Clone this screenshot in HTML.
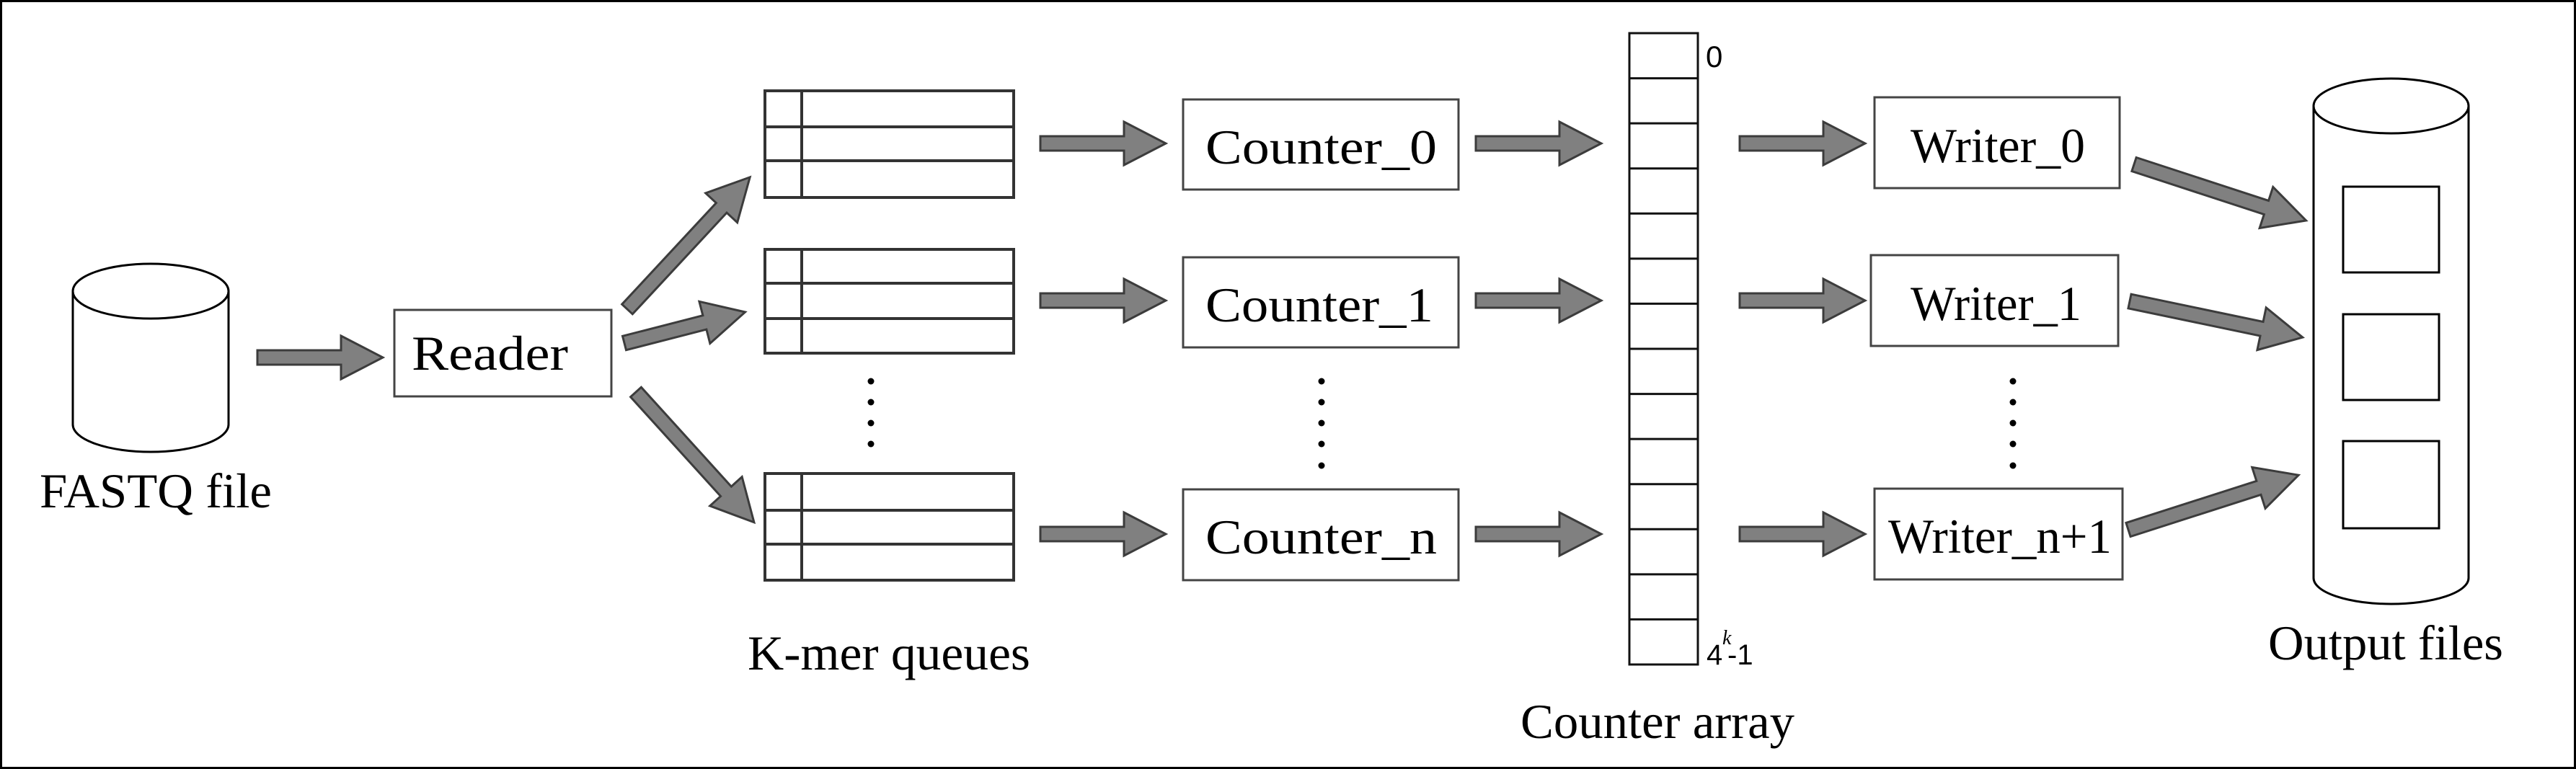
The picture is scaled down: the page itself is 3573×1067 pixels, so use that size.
<!DOCTYPE html>
<html><head><meta charset="utf-8"><style>
html,body{margin:0;padding:0;background:#fff}
svg{display:block}
text{font-family:"Liberation Serif",serif;fill:#000}
</style></head><body>
<svg width="3573" height="1067" viewBox="0 0 3573 1067" xmlns="http://www.w3.org/2000/svg">
<defs>
<g id="ah"><polygon points="0,-10 116,-10 116,-30 174,0 116,30 116,10 0,10" fill="#808080" stroke="#3c3c3c" stroke-width="3"/></g>
</defs>
<rect x="1.5" y="1.5" width="3570" height="1064" fill="#fff" stroke="#000" stroke-width="3"/>

<!-- FASTQ cylinder -->
<g fill="#fff" stroke="#000" stroke-width="3">
<path d="M101,404 L101,589 A108,38 0 0 0 317,589 L317,404"/>
<ellipse cx="209" cy="404" rx="108" ry="38"/>
</g>
<text x="55" y="704" font-size="68" textLength="322" lengthAdjust="spacingAndGlyphs">FASTQ file</text>

<!-- Reader arrow -->
<polygon points="357,486 473,486 473,466 531,496 473,526 473,506 357,506" fill="#808080" stroke="#3c3c3c" stroke-width="3"/>
<rect x="547" y="430" width="301" height="120" fill="#fff" stroke="#444" stroke-width="3"/>
<text x="571" y="513" font-size="68" textLength="217" lengthAdjust="spacingAndGlyphs">Reader</text>

<!-- diagonal arrows -->
<g fill="#808080" stroke="#3c3c3c" stroke-width="3">
<polygon transform="translate(870,429) rotate(-47.1)" points="0,-10 192,-10 192,-30 250,0 192,30 192,10 0,10"/>
<polygon transform="translate(866,476) rotate(-14.4)" points="0,-10 115,-10 115,-30 173,0 115,30 115,10 0,10"/>
<polygon transform="translate(882,544) rotate(47.8)" points="0,-10 186,-10 186,-30 244,0 186,30 186,10 0,10"/>
</g>

<!-- queues -->
<g fill="none" stroke="#333" stroke-width="4">
<rect x="1061" y="126" width="345" height="148"/><line x1="1061" y1="176" x2="1406" y2="176"/><line x1="1061" y1="223" x2="1406" y2="223"/><line x1="1112" y1="126" x2="1112" y2="274"/>
<rect x="1061" y="346" width="345" height="144"/><line x1="1061" y1="393" x2="1406" y2="393"/><line x1="1061" y1="442" x2="1406" y2="442"/><line x1="1112" y1="346" x2="1112" y2="490"/>
<rect x="1061" y="657" width="345" height="148"/><line x1="1061" y1="708" x2="1406" y2="708"/><line x1="1061" y1="755" x2="1406" y2="755"/><line x1="1112" y1="657" x2="1112" y2="805"/>
</g>
<g fill="#000">
<circle cx="1208" cy="529" r="4.5"/><circle cx="1208" cy="558" r="4.5"/><circle cx="1208" cy="587" r="4.5"/><circle cx="1208" cy="616" r="4.5"/>
<circle cx="1833" cy="529" r="4.5"/><circle cx="1833" cy="558" r="4.5"/><circle cx="1833" cy="587" r="4.5"/><circle cx="1833" cy="616" r="4.5"/><circle cx="1833" cy="646" r="4.5"/>
<circle cx="2792" cy="529" r="4.5"/><circle cx="2792" cy="558" r="4.5"/><circle cx="2792" cy="587" r="4.5"/><circle cx="2792" cy="616" r="4.5"/><circle cx="2792" cy="646" r="4.5"/>
</g>
<text x="1037" y="929" font-size="68" textLength="392" lengthAdjust="spacingAndGlyphs">K-mer queues</text>

<!-- horizontal arrows -->
<use href="#ah" x="1443" y="199"/><use href="#ah" x="1443" y="417"/><use href="#ah" x="1443" y="741"/>
<use href="#ah" x="2047" y="199"/><use href="#ah" x="2047" y="417"/><use href="#ah" x="2047" y="741"/>
<use href="#ah" x="2413" y="199"/><use href="#ah" x="2413" y="417"/><use href="#ah" x="2413" y="741"/>

<!-- counters -->
<g fill="#fff" stroke="#444" stroke-width="3">
<rect x="1641" y="138" width="382" height="125"/>
<rect x="1641" y="357" width="382" height="125"/>
<rect x="1641" y="679" width="382" height="126"/>
</g>
<text x="1672" y="227" font-size="68" textLength="321" lengthAdjust="spacingAndGlyphs">Counter_0</text>
<text x="1672" y="446" font-size="68" textLength="316" lengthAdjust="spacingAndGlyphs">Counter_1</text>
<text x="1672" y="768" font-size="68" textLength="321" lengthAdjust="spacingAndGlyphs">Counter_n</text>

<!-- array -->
<g fill="none" stroke="#111" stroke-width="3">
<rect x="2260" y="46" width="95" height="876"/>
<path d="M2260,108.6H2355M2260,171.1H2355M2260,233.7H2355M2260,296.3H2355M2260,358.9H2355M2260,421.4H2355M2260,484H2355M2260,546.6H2355M2260,609.1H2355M2260,671.7H2355M2260,734.3H2355M2260,796.9H2355M2260,859.4H2355"/>
</g>
<text x="2366" y="93" font-size="42" style="font-family:'Liberation Sans',sans-serif">0</text>
<text x="2367" y="922" font-size="40" style="font-family:'Liberation Sans',sans-serif">4</text>
<text x="2389" y="894" font-size="28" font-style="italic">k</text>
<text x="2396" y="922" font-size="40" style="font-family:'Liberation Sans',sans-serif">-1</text>
<text x="2109" y="1024" font-size="68" textLength="380" lengthAdjust="spacingAndGlyphs">Counter array</text>

<!-- writers -->
<g fill="#fff" stroke="#444" stroke-width="3">
<rect x="2600" y="135" width="340" height="126"/>
<rect x="2595" y="354" width="343" height="126"/>
<rect x="2600" y="678" width="344" height="126"/>
</g>
<text x="2650" y="225" font-size="68" textLength="242" lengthAdjust="spacingAndGlyphs">Writer_0</text>
<text x="2650" y="444" font-size="68" textLength="237" lengthAdjust="spacingAndGlyphs">Writer_1</text>
<text x="2619" y="767" font-size="68" textLength="310" lengthAdjust="spacingAndGlyphs">Writer_n+1</text>

<g fill="#808080" stroke="#3c3c3c" stroke-width="3">
<polygon transform="translate(2960,228) rotate(18.1)" points="0,-10 193,-10 193,-30 251,0 193,30 193,10 0,10"/>
<polygon transform="translate(2954,418) rotate(11.8)" points="0,-10 187,-10 187,-30 245,0 187,30 187,10 0,10"/>
<polygon transform="translate(2952,735) rotate(-17.8)" points="0,-10 190,-10 190,-30 248,0 190,30 190,10 0,10"/>
</g>

<!-- output cylinder -->
<g fill="#fff" stroke="#000" stroke-width="3">
<path d="M3209,147 L3209,802 A107.5,36 0 0 0 3424,802 L3424,147"/>
<ellipse cx="3316.5" cy="147" rx="107.5" ry="38"/>
<rect x="3250" y="259" width="133" height="119"/>
<rect x="3250" y="436" width="133" height="119"/>
<rect x="3250" y="612" width="133" height="121"/>
</g>
<text x="3146" y="915" font-size="68" textLength="326" lengthAdjust="spacingAndGlyphs">Output files</text>
</svg>
</body></html>
